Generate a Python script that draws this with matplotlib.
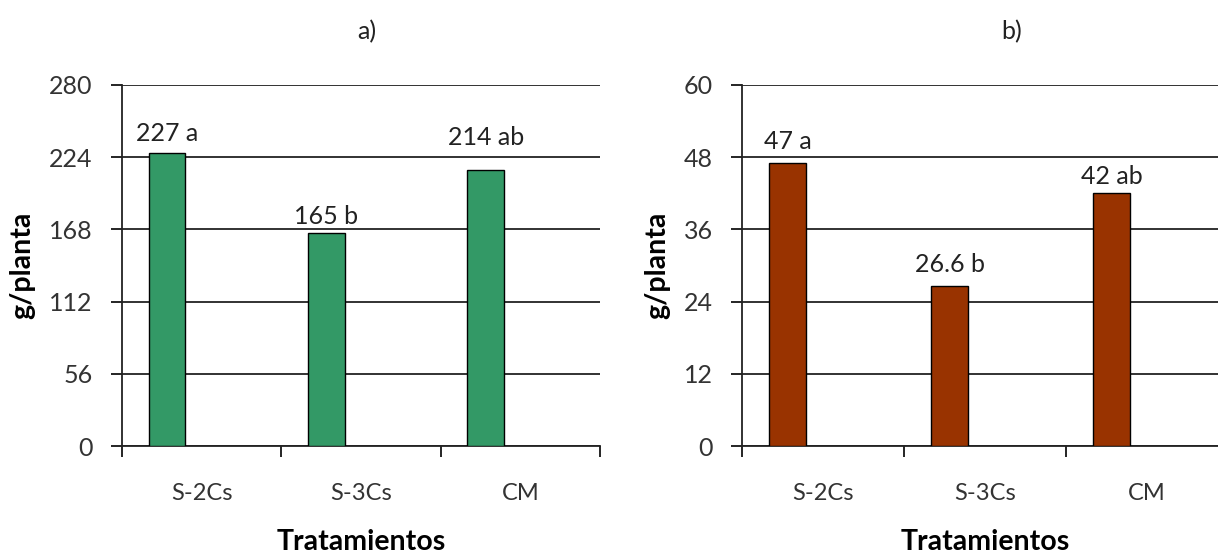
import matplotlib
matplotlib.use("Agg")
import matplotlib.pyplot as plt

categories = ["S-2Cs", "S-3Cs", "CM"]
values_a = [227, 165, 214]
labels_a = ["227 a", "165 b", "214 ab"]
values_b = [47, 26.6, 42]
labels_b = ["47 a", "26.6 b", "42 ab"]
yticks_a = [0, 56, 112, 168, 224, 280]
yticks_b = [0, 12, 24, 36, 48, 60]

plt.rcParams['font.family'] = ['Lato', 'DejaVu Sans']

W, H = 1218, 558
fig = plt.figure(figsize=(W / 100, H / 100), dpi=100)

def px_axes(x0, x1, y0, y1):
    return fig.add_axes([x0 / W, (H - y0) / H, (x1 - x0) / W, (y0 - y1) / H])

def draw(ax, values, labels, yticks, color, offsets):
    n = len(categories)
    pos = [i + 0.283 for i in range(n)]
    bars = ax.bar(pos, values, width=0.23, color=color, edgecolor='black',
                  linewidth=1.0, zorder=3)
    for b, lab, off in zip(bars, labels, offsets):
        ax.annotate(lab, (b.get_x() + b.get_width() / 2, b.get_height()),
                    xytext=(0, off), textcoords='offset points', ha='center',
                    va='bottom', fontsize=18, color='#222222')
    ax.set_xlim(0, n)
    ax.set_ylim(yticks[0], yticks[-1])
    ax.set_yticks(yticks)
    ax.set_yticklabels([str(t) for t in yticks], fontsize=18, color='#333333')
    ax.set_xticks(range(n + 1))
    ax.set_xticklabels([])
    ax.set_xticks([i + 0.5 for i in range(n)], minor=True)
    ax.set_xticklabels(categories, minor=True, fontsize=17, color='#333333')
    ax.tick_params(axis='x', which='major', direction='out', length=8, width=1.2)
    ax.tick_params(axis='x', which='minor', length=0, pad=27)
    ax.tick_params(axis='y', direction='out', length=8, width=1.2, pad=13)
    ax.yaxis.grid(True, color='#222222', linewidth=1.3, zorder=0)
    ax.set_axisbelow(True)
    for s in ['top', 'right']:
        ax.spines[s].set_visible(False)
    for s in ['left', 'bottom']:
        ax.spines[s].set_linewidth(1.3)
        ax.spines[s].set_color('#222222')
    ax.set_xlabel("Tratamientos", fontsize=20.5, fontweight='bold', labelpad=18)
    ax.set_ylabel("g/planta", fontsize=20.5, fontweight='bold', labelpad=10)

ax1 = px_axes(122, 600, 446, 85)
draw(ax1, values_a, labels_a, yticks_a, '#339966', [6, 4, 15])
ax2 = px_axes(742, 1228, 446, 85)
draw(ax2, values_b, labels_b, yticks_b, '#993300', [7, 7, 4])

fig.text(367 / W, 1 - 32 / H, "a)", ha='center', va='center', fontsize=18, color='#222222')
fig.text(1012 / W, 1 - 32 / H, "b)", ha='center', va='center', fontsize=18, color='#222222')

fig.savefig("out.png", dpi=100)
